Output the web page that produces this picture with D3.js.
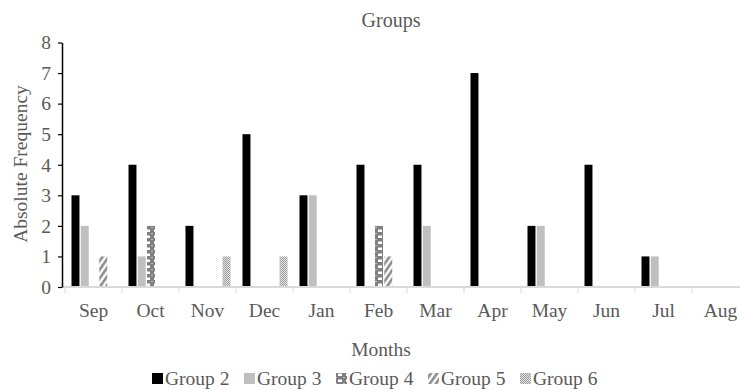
<!DOCTYPE html>
<html>
<head>
<meta charset="utf-8">
<script src="https://cdn.jsdelivr.net/npm/d3@7"></script>
<style>
  html, body { margin: 0; padding: 0; background: #fff; }
  svg text { font-family: "Liberation Serif", "Times New Roman", Tinos, serif; }
</style>
</head>
<body>
<svg id="chart" width="740" height="390"></svg>
<script>
// Monthly counts per group
const months = ["Sep", "Oct", "Nov", "Dec", "Jan", "Feb", "Mar", "Apr", "May", "Jun", "Jul", "Aug"];
const seriesNames = ["Group 2", "Group 3", "Group 4", "Group 5", "Group 6"];
const group2 = [3, 4, 2, 5, 3, 4, 4, 7, 2, 4, 1, 0];
const group3 = [2, 1, 0, 0, 3, 0, 2, 0, 2, 0, 1, 0];
const group4 = [0, 2, 0, 0, 0, 2, 0, 0, 0, 0, 0, 0];
const group5 = [1, 0, 0, 0, 0, 1, 0, 0, 0, 0, 0, 0];
const group6 = [0, 0, 1, 1, 0, 0, 0, 0, 0, 0, 0, 0];
const yTicks = [0, 1, 2, 3, 4, 5, 6, 7, 8];

const seriesValues = [group2, group3, group4, group5, group6];
const fills = ["#000000", "#bfbfbf", "url(#pat4)", "url(#pat5)", "url(#pat6)"];

const svg = d3.select("#chart");
const textColor = "#595959";
const serif = "'Liberation Serif', 'Times New Roman', Tinos, serif";
const fs = 19.5;

// Fill patterns
const defs = svg.append("defs");
const p4 = defs.append("pattern").attr("id", "pat4").attr("patternUnits", "userSpaceOnUse")
  .attr("width", 8).attr("height", 6);
p4.append("rect").attr("width", 8).attr("height", 6).attr("fill", "#7f7f7f");
p4.append("rect").attr("x", 2).attr("y", 1.5).attr("width", 4).attr("height", 2.5).attr("fill", "#ffffff");
p4.append("rect").attr("x", 0).attr("y", 5).attr("width", 1).attr("height", 1).attr("fill", "#bfbfbf");
p4.append("rect").attr("x", 7).attr("y", 5).attr("width", 1).attr("height", 1).attr("fill", "#bfbfbf");

const p5 = defs.append("pattern").attr("id", "pat5").attr("patternUnits", "userSpaceOnUse")
  .attr("width", 5).attr("height", 5).attr("patternTransform", "rotate(35)");
p5.append("rect").attr("width", 5).attr("height", 5).attr("fill", "#ffffff");
p5.append("rect").attr("width", 2.6).attr("height", 5).attr("fill", "#8c8c8c");

const p6 = defs.append("pattern").attr("id", "pat6").attr("patternUnits", "userSpaceOnUse")
  .attr("width", 2).attr("height", 2);
p6.append("rect").attr("width", 2).attr("height", 2).attr("fill", "#e6e6e6");
p6.append("rect").attr("width", 1).attr("height", 1).attr("fill", "#9a9a9a");
p6.append("rect").attr("x", 1).attr("y", 1).attr("width", 1).attr("height", 1).attr("fill", "#9a9a9a");

// Scales
const x0 = d3.scaleBand().domain(months).range([65, 749]).padding(0);
const x1 = d3.scaleBand().domain(d3.range(seriesNames.length))
  .range([6.5, x0.bandwidth() - 5.5]).paddingInner(0.14);
const y = d3.scaleLinear().domain([0, 8]).range([287, 42.5]);

// Bars
const groups = svg.append("g").selectAll("g")
  .data(seriesValues)
  .join("g")
  .attr("fill", (d, i) => fills[i]);

groups.selectAll("rect")
  .data((vals, si) => vals.map((v, mi) => ({ v, mi, si })))
  .join("rect")
  .filter(d => d.v > 0)
  .attr("x", d => x0(months[d.mi]) + x1(d.si))
  .attr("y", d => y(d.v))
  .attr("width", x1.bandwidth())
  .attr("height", d => y(0) - y(d.v));

// X axis
const xAxis = svg.append("g")
  .attr("transform", `translate(0,${y(0)})`)
  .call(d3.axisBottom(x0).tickSize(0).tickSizeOuter(0));
xAxis.attr("font-family", serif).attr("font-size", fs);
xAxis.select(".domain").attr("stroke", "#d9d9d9").attr("stroke-width", 2)
  .attr("d", `M62,0H740`);
xAxis.selectAll(".tick text").attr("fill", textColor).attr("font-size", fs)
  .attr("font-family", serif).attr("y", 30).attr("dy", 0);
// category boundary ticks
svg.append("g").selectAll("line")
  .data(months)
  .join("line")
  .attr("x1", d => x0(d)).attr("x2", d => x0(d))
  .attr("y1", y(0)).attr("y2", y(0) + 6)
  .attr("stroke", "#d9d9d9").attr("stroke-width", 1);

// Y axis
const yAxis = svg.append("g")
  .attr("transform", "translate(62,0)")
  .call(d3.axisLeft(y).tickValues(yTicks).tickFormat(d3.format("d")).tickSize(4).tickSizeOuter(0));
yAxis.attr("font-family", serif).attr("font-size", fs);
yAxis.select(".domain").attr("stroke", "#000").attr("stroke-width", 1.5);
yAxis.selectAll(".tick line").attr("stroke", "#000").attr("stroke-width", 1.2);
yAxis.selectAll(".tick text").attr("fill", textColor).attr("font-size", fs)
  .attr("font-family", serif).attr("x", -11);

// Titles
svg.append("text").attr("x", 391).attr("y", 27).attr("text-anchor", "middle")
  .attr("font-family", serif).attr("fill", textColor).attr("font-size", 20).text("Groups");
svg.append("text").attr("x", 381).attr("y", 356).attr("text-anchor", "middle")
  .attr("font-family", serif).attr("fill", textColor).attr("font-size", fs).text("Months");
svg.append("text").attr("transform", "translate(27,164) rotate(-90)").attr("text-anchor", "middle")
  .attr("font-family", serif).attr("fill", textColor).attr("font-size", fs).text("Absolute Frequency");

// Legend
const legend = svg.append("g").selectAll("g")
  .data(seriesNames)
  .join("g")
  .attr("transform", (d, i) => `translate(${152 + 92 * i},384)`);
legend.append("rect").attr("x", 0).attr("y", -11).attr("width", 11).attr("height", 11)
  .attr("fill", (d, i) => fills[i]);
legend.append("text").attr("x", 13).attr("y", 1).attr("fill", textColor)
  .attr("font-family", serif).attr("font-size", fs).text(d => d);
</script>
</body>
</html>
